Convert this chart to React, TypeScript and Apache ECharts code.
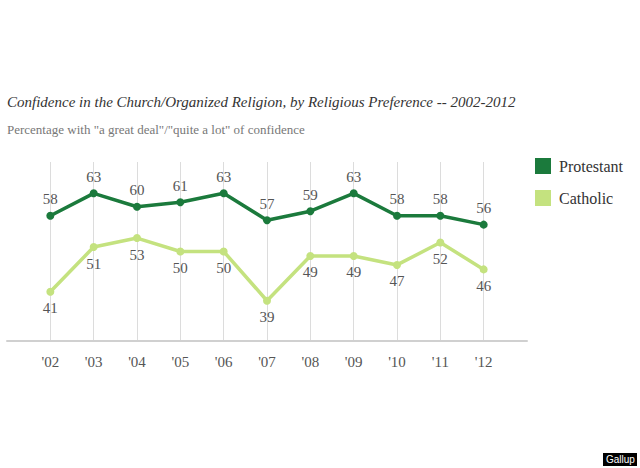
import React, { useEffect, useRef } from "react";
import * as echarts from "echarts";

const years = ["'02", "'03", "'04", "'05", "'06", "'07", "'08", "'09", "'10", "'11", "'12"];
const protestant = [58, 63, 60, 61, 63, 57, 59, 63, 58, 58, 56];
const catholic = [41, 51, 53, 50, 50, 39, 49, 49, 47, 52, 46];

const titleText = "Confidence in the Church/Organized Religion, by Religious Preference -- 2002-2012";
const subtitleText = 'Percentage with "a great deal"/"quite a lot" of confidence';

const SERIF = "'Liberation Serif', 'DejaVu Serif', serif";

export default function App() {
  const ref = useRef<HTMLDivElement>(null);
  useEffect(() => {
    if (!ref.current) return;
    const chart = echarts.init(ref.current, undefined, { renderer: "svg" });
    const option = {
      animation: false,
      backgroundColor: "#ffffff",
      title: [
        {
          text: titleText,
          left: 2,
          top: 89,
          textStyle: { fontFamily: SERIF, fontStyle: "italic", fontWeight: "normal", fontSize: 15, color: "#333" },
        },
        {
          text: subtitleText,
          left: 2,
          top: 118,
          textStyle: { fontFamily: SERIF, fontWeight: "normal", fontSize: 13, color: "#777" },
        },
      ],
      legend: {
        orient: "vertical",
        left: 530,
        top: 153,
        icon: "rect",
        itemWidth: 16,
        itemHeight: 16,
        itemGap: 16,
        textStyle: { fontFamily: SERIF, fontSize: 16, color: "#333", padding: [0, 0, 0, 3] },
        data: ["Protestant", "Catholic"],
      },
      grid: { left: 7, right: 113, top: 162, bottom: 127 },
      xAxis: {
        type: "value",
        min: -1,
        max: 11,
        interval: 1,
        axisLine: { show: true, onZero: false, lineStyle: { color: "#d0d0d0", width: 2 } },
        axisTick: { show: false },
        axisLabel: {
          margin: 13,
          fontFamily: SERIF,
          fontSize: 15,
          color: "#555",
          formatter: (v: number) => (v >= 0 && v < years.length ? years[v] : ""),
        },
        splitLine: { show: true, showMinLine: false, showMaxLine: false, lineStyle: { color: "#dcdcdc", width: 1 } },
      },
      yAxis: {
        type: "value",
        min: 30,
        max: 70,
        show: false,
        splitLine: { show: false },
      },
      series: [
        {
          name: "Protestant",
          type: "line",
          data: protestant.map((v, i) => [i, v]),
          color: "#1b7a3c",
          lineStyle: { width: 3.5, color: "#1b7a3c" },
          itemStyle: { color: "#1b7a3c" },
          symbol: "circle",
          symbolSize: 8,
          label: { show: true, position: "top", distance: 5, fontFamily: SERIF, fontSize: 15, color: "#555" },
        },
        {
          name: "Catholic",
          type: "line",
          data: catholic.map((v, i) => [i, v]),
          color: "#c4e27f",
          lineStyle: { width: 3.5, color: "#c4e27f" },
          itemStyle: { color: "#c4e27f" },
          symbol: "circle",
          symbolSize: 8,
          label: { show: true, position: "bottom", distance: 5, fontFamily: SERIF, fontSize: 15, color: "#555" },
        },
      ],
      graphic: [
        {
          type: "rect",
          left: 603,
          top: 453,
          shape: { width: 34, height: 13 },
          style: { fill: "#000" },
        },
        {
          type: "text",
          left: 606,
          top: 454,
          style: { text: "Gallup", fill: "#fff", font: "10px 'Liberation Sans', sans-serif" },
        },
      ],
    };
    chart.setOption(option as any);
    return () => chart.dispose();
  }, []);
  return <div ref={ref} style={{ width: 640, height: 468, position: "fixed", left: 0, top: 0 }} />;
}
